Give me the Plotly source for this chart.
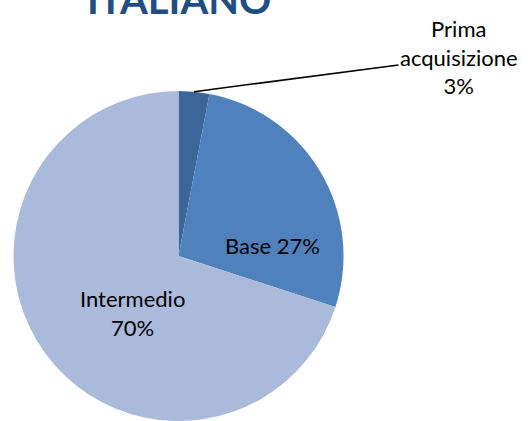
import math
import plotly.graph_objects as go

W, H = 531, 421

labels = ["Prima acquisizione", "Base", "Intermedio"]
values = [3, 27, 70]
slice_text = ["Prima<br>acquisizione<br>3%", "Base 27%", "Intermedio<br>70%"]
colors = ["#3C6598", "#4F81BD", "#AABADB"]
title = "ITALIANO"

# pie placement in pixels (centre and radius); bottom touches the edge
cx, cy, R = 178.5, 256, 165

fig = go.Figure()
fig.add_trace(go.Pie(
    labels=labels,
    values=values,
    textinfo="none",
    sort=False,
    direction="clockwise",
    rotation=0,
    marker=dict(colors=colors, line=dict(width=0)),
    domain=dict(x=[(cx - R) / W, (cx + R) / W], y=[max(0, (H - cy - R) / H), (H - cy + R) / H]),
    showlegend=False,
    hoverinfo="label+percent",
))

def px(x, y):
    return x / W, 1 - y / H

lbl_font = dict(family="Lato", size=22, color="black")

# leader line for the small slice, pointing at the middle of its arc
theta = 2 * math.pi * (values[0] / 2) / sum(values)
hx = cx + R * math.sin(theta)
hy = cy - R * math.cos(theta)
x0, y0 = px(hx, hy)
fig.add_annotation(
    x=x0, y=y0, xref="paper", yref="paper",
    text=slice_text[0],
    showarrow=True, arrowhead=0, arrowwidth=1.5, arrowcolor="black",
    ax=459 - hx, ay=57 - hy, standoff=0,
    font=lbl_font, align="center",
)

# labels inside the two big slices
for t, (lx, ly) in zip(slice_text[1:], [(272, 245), (132, 313)]):
    x1, y1 = px(lx, ly)
    fig.add_annotation(x=x1, y=y1, xref="paper", yref="paper", text=t,
                       xanchor="center", yanchor="middle",
                       showarrow=False, font=lbl_font, align="center")

fig.add_annotation(
    x=cx / W, y=1 + 1 / H, xref="paper", yref="paper",
    text="<b>" + title + "</b>", showarrow=False,
    font=dict(family="Lato", size=40, color="#1F4E84"),
    xanchor="center", yanchor="middle",
)

fig.update_layout(
    width=W, height=H,
    margin=dict(l=0, r=0, t=0, b=0),
    paper_bgcolor="white",
    plot_bgcolor="white",
)

fig.write_html("out.html", config={"displayModeBar": False},
               post_script="document.body.style.margin='0px';")
